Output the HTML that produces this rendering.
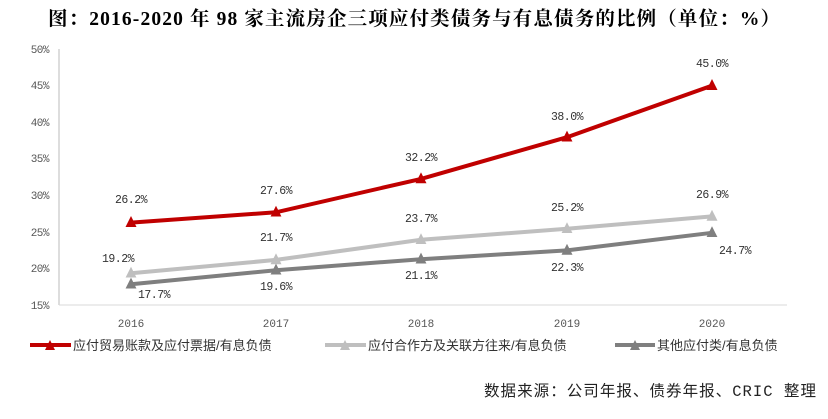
<!DOCTYPE html>
<html><head><meta charset="utf-8"><style>
body{margin:0;background:#fff;width:828px;height:414px;overflow:hidden}
.s{font-family:"Liberation Sans","Noto Sans CJK SC",sans-serif}
.m{font-family:"Liberation Mono","Noto Sans CJK SC",monospace}
.t{font-family:"Liberation Serif","Noto Serif CJK SC",serif}
</style></head><body>
<svg width="828" height="414" xmlns="http://www.w3.org/2000/svg">
<text class="t" x="48" y="25" font-size="19.5" font-weight="bold" textLength="732" lengthAdjust="spacing">图：2016-2020 年 98 家主流房企三项应付类债务与有息债务的比例（单位：%）</text>
<line x1="59" y1="49" x2="59" y2="305" stroke="#bbb"/>
<line x1="59" y1="305" x2="787" y2="305" stroke="#d9d9d9"/>
<g class="m" font-size="11" fill="#555" text-anchor="end" letter-spacing="-0.5">
<text x="49" y="53">50%</text><text x="49" y="89">45%</text><text x="49" y="126">40%</text><text x="49" y="162">35%</text><text x="49" y="199">30%</text><text x="49" y="236">25%</text><text x="49" y="272">20%</text><text x="49" y="309">15%</text>
</g>
<g class="m" font-size="11" fill="#555" text-anchor="middle">
<text x="131" y="327">2016</text><text x="276" y="327">2017</text><text x="421" y="327">2018</text><text x="567" y="327">2019</text><text x="712" y="327">2020</text>
</g>
<defs><marker id="m1" viewBox="0 0 10 10" refX="5" refY="6" markerWidth="11" markerHeight="11" markerUnits="userSpaceOnUse"><path d="M0,10L5,0L10,10z" fill="#c00000"/></marker>
<marker id="m2" viewBox="0 0 10 10" refX="5" refY="6" markerWidth="11" markerHeight="11" markerUnits="userSpaceOnUse"><path d="M0,10L5,0L10,10z" fill="#bfbfbf"/></marker>
<marker id="m3" viewBox="0 0 10 10" refX="5" refY="6" markerWidth="11" markerHeight="11" markerUnits="userSpaceOnUse"><path d="M0,10L5,0L10,10z" fill="#7f7f7f"/></marker></defs>
<polyline points="131,222.6 276,212.3 421,178.9 567,137.2 712,85.6" fill="none" stroke="#c00000" stroke-width="4" marker-start="url(#m1)" marker-mid="url(#m1)" marker-end="url(#m1)"/>
<polyline points="131,273.3 276,259.9 421,239.8 567,228.8 712,216.4" fill="none" stroke="#bfbfbf" stroke-width="4" marker-start="url(#m2)" marker-mid="url(#m2)" marker-end="url(#m2)"/>
<polyline points="131,284.2 276,270.2 421,259.2 567,250.4 712,232.8" fill="none" stroke="#7f7f7f" stroke-width="4" marker-start="url(#m3)" marker-mid="url(#m3)" marker-end="url(#m3)"/>
<g class="m" font-size="11.5" fill="#333" text-anchor="middle" letter-spacing="-0.5">
<text x="131" y="203">26.2%</text><text x="276" y="194">27.6%</text><text x="421" y="161">32.2%</text><text x="567" y="120">38.0%</text><text x="712" y="67">45.0%</text>
<text x="118" y="262">19.2%</text><text x="276" y="241">21.7%</text><text x="421" y="222">23.7%</text><text x="567" y="211">25.2%</text><text x="712" y="198">26.9%</text>
<text x="154" y="298">17.7%</text><text x="276" y="290">19.6%</text><text x="421" y="279">21.1%</text><text x="567" y="271">22.3%</text><text x="735" y="254">24.7%</text>
</g>
<g class="s" font-size="13" fill="#333">
<line x1="30" y1="345" x2="71" y2="345" stroke="#c00000" stroke-width="4"/><path d="M45,350L50,340L55,350z" fill="#c00000"/>
<text x="73" y="350">应付贸易账款及应付票据/有息负债</text>
<line x1="325" y1="345" x2="366" y2="345" stroke="#bfbfbf" stroke-width="4"/><path d="M340,350L345,340L350,350z" fill="#bfbfbf"/>
<text x="368" y="350">应付合作方及关联方往来/有息负债</text>
<line x1="615" y1="345" x2="655" y2="345" stroke="#7f7f7f" stroke-width="4"/><path d="M630,350L635,340L640,350z" fill="#7f7f7f"/>
<text x="657" y="350">其他应付类/有息负债</text>
</g>
<text class="m" x="484" y="396" font-size="15.5" fill="#222" textLength="332" lengthAdjust="spacing">数据来源：公司年报、债券年报、CRIC 整理</text>
</svg>
</body></html>
